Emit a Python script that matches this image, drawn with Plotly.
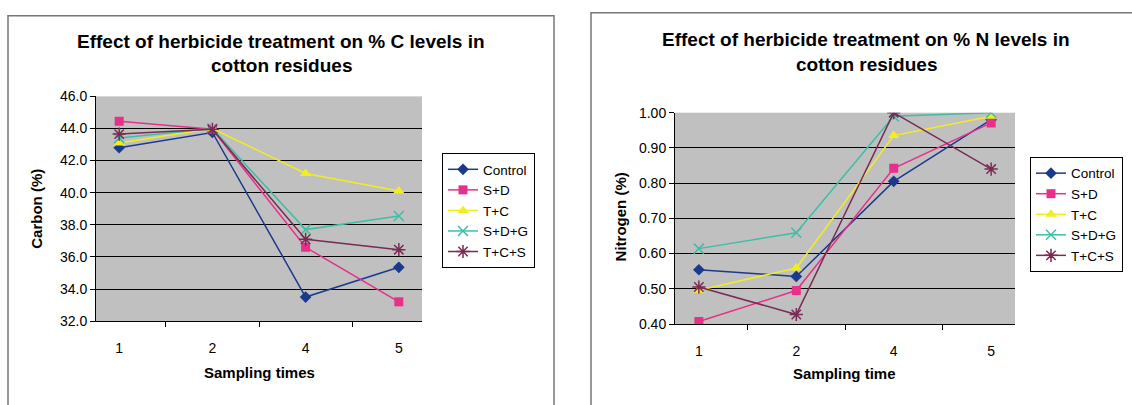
import plotly.graph_objects as go

W, H = 1132, 405

sampling = ["1", "2", "4", "5"]
series_names = ["Control", "S+D", "T+C", "S+D+G", "T+C+S"]

carbon_control = [42.8, 43.75, 33.5, 35.35]
carbon_sd = [44.45, 43.95, 36.6, 33.2]
carbon_tc = [43.1, 44.0, 41.2, 40.1]
carbon_sdg = [43.4, 44.0, 37.7, 38.55]
carbon_tcs = [43.65, 43.95, 37.1, 36.45]

nitrogen_control = [0.554, 0.535, 0.805, 0.98]
nitrogen_sd = [0.407, 0.495, 0.842, 0.971]
nitrogen_tc = [0.496, 0.559, 0.935, 0.99]
nitrogen_sdg = [0.614, 0.659, 0.99, 1.0]
nitrogen_tcs = [0.505, 0.427, 1.0, 0.84]

carbon_ticks = [32.0, 34.0, 36.0, 38.0, 40.0, 42.0, 44.0, 46.0]
nitrogen_ticks = [0.40, 0.50, 0.60, 0.70, 0.80, 0.90, 1.00]

colors = ["#1b3a8c", "#e6308a", "#f2ee1e", "#3dbfa6", "#7a2b54"]
symbols = ["diamond", "square", "triangle-up", "x-thin-open", "asterisk-open"]
msizes = [9, 9, 10, 10, 11]

FONT = "Liberation Sans, Arial, sans-serif"

def px_x(p):
    return p / W

def px_y(p):
    return 1 - p / H

fig = go.Figure()

carbon = [carbon_control, carbon_sd, carbon_tc, carbon_sdg, carbon_tcs]
nitrogen = [nitrogen_control, nitrogen_sd, nitrogen_tc, nitrogen_sdg, nitrogen_tcs]

for i, name in enumerate(series_names):
    mk = dict(symbol=symbols[i], size=msizes[i], color=colors[i],
              line=dict(color=colors[i], width=1.5 if i >= 3 else 0))
    fig.add_trace(go.Scatter(x=sampling, y=carbon[i], name=name, mode="lines+markers",
                             line=dict(color=colors[i], width=1.5), marker=mk,
                             xaxis="x", yaxis="y", legend="legend"))
for i, name in enumerate(series_names):
    mk = dict(symbol=symbols[i], size=msizes[i], color=colors[i],
              line=dict(color=colors[i], width=1.5 if i >= 3 else 0))
    fig.add_trace(go.Scatter(x=sampling, y=nitrogen[i], name=name, mode="lines+markers",
                             line=dict(color=colors[i], width=1.5), marker=mk,
                             xaxis="x2", yaxis="y2", legend="legend2"))

axis_common = dict(showline=True, linecolor="black", linewidth=1, mirror=False,
                   tickfont=dict(family=FONT, size=14, color="black"),
                   ticks="outside", ticklen=5, tickcolor="black", zeroline=False)

fig.update_layout(
    width=W, height=H, margin=dict(l=0, r=0, t=0, b=0),
    paper_bgcolor="white", plot_bgcolor="#c0c0c0",
    font=dict(family=FONT, color="black"),
    xaxis=dict(domain=[px_x(96), px_x(422)], anchor="y", type="category",
               tickson="boundaries", showgrid=False, ticklabelstandoff=14, **axis_common),
    yaxis=dict(domain=[px_y(326), px_y(92)], anchor="x", range=[32, 46],
               tickvals=carbon_ticks, ticktext=[f"{v:.1f}" for v in carbon_ticks],
               showgrid=True, gridcolor="black", gridwidth=1, **axis_common),
    xaxis2=dict(domain=[px_x(675), px_x(1015)], anchor="y2", type="category",
                tickson="boundaries", showgrid=False, ticklabelstandoff=14, **axis_common),
    yaxis2=dict(domain=[px_y(329), px_y(109)], anchor="x2", range=[0.40, 1.00],
                tickvals=nitrogen_ticks, ticktext=[f"{v:.2f}" for v in nitrogen_ticks],
                showgrid=True, gridcolor="black", gridwidth=1, **axis_common),
    legend=dict(x=px_x(442), y=px_y(151), xanchor="left", yanchor="top",
                bgcolor="white", bordercolor="black", borderwidth=1,
                font=dict(family=FONT, size=13.5, color="black"),
                tracegroupgap=0, itemwidth=30),
    legend2=dict(x=px_x(1030), y=px_y(155), xanchor="left", yanchor="top",
                 bgcolor="white", bordercolor="black", borderwidth=1,
                 font=dict(family=FONT, size=13.5, color="black"),
                 tracegroupgap=0, itemwidth=30),
    showlegend=True,
)

# frames around each chart
fig.add_shape(type="rect", xref="paper", yref="paper",
              x0=px_x(8), x1=px_x(554), y0=px_y(420), y1=px_y(8),
              line=dict(color="#777777", width=1.5), layer="below")
fig.add_shape(type="rect", xref="paper", yref="paper",
              x0=px_x(591), x1=px_x(1150), y0=px_y(420), y1=px_y(5),
              line=dict(color="#777777", width=1.5), layer="below")

def ann(text, x, y, size, bold=False, angle=0):
    t = f"<b>{text}</b>" if bold else text
    fig.add_annotation(text=t, xref="paper", yref="paper", x=px_x(x), y=px_y(y),
                       xanchor="center", yanchor="middle", showarrow=False,
                       textangle=angle, font=dict(family=FONT, size=size, color="black"))

ann("Effect of herbicide treatment on % C levels in", 281, 35, 19, True)
ann("cotton residues", 281, 60, 19, True)
ann("Carbon (%)", 37, 209, 15, True, -90)
ann("Sampling times", 259, 379, 15, True)

ann("Effect of herbicide treatment on % N levels in", 866, 33, 19, True)
ann("cotton residues", 866, 59, 19, True)
ann("Nitrogen (%)", 620, 218, 15, True, -90)
ann("Sampling time", 844, 381, 15, True)

fig.write_html("out.html")
